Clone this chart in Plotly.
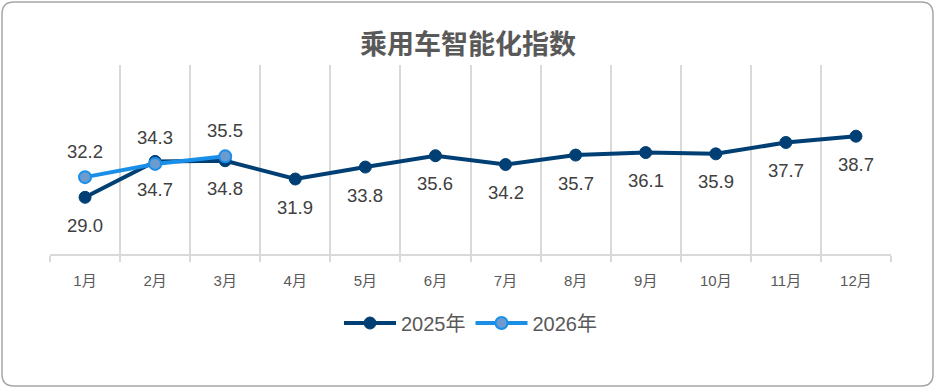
import plotly.graph_objects as go

months = ["1月", "2月", "3月", "4月", "5月", "6月", "7月", "8月", "9月", "10月", "11月", "12月"]
s2025 = [29.0, 34.7, 34.8, 31.9, 33.8, 35.6, 34.2, 35.7, 36.1, 35.9, 37.7, 38.7]
months_2026 = ["1月", "2月", "3月"]
s2026 = [32.2, 34.3, 35.5]

W, H = 936, 389
L, R, T, B = 50, 45, 65, 135
PW, PH = W - L - R, H - T - B

FONT = "Liberation Sans, Arial, Noto Sans CJK SC, sans-serif"

fig = go.Figure()
fig.add_trace(go.Scatter(
    x=months, y=s2025, name="2025年", mode="lines+markers",
    line=dict(color="#003f74", width=4),
    marker=dict(size=12, color="#003f74", line=dict(color="#003f74", width=1)),
))
fig.add_trace(go.Scatter(
    x=months_2026, y=s2026, name="2026年", mode="lines+markers",
    line=dict(color="#1a8fe8", width=4),
    marker=dict(size=12, color="#6c9bd0", line=dict(color="#1a8fe8", width=2)),
))

annots = []
for m, v in zip(months, s2025):
    annots.append(dict(x=m, y=v, xref="x", yref="y", text=f"{v:.1f}", showarrow=False,
                       yshift=-28, font=dict(size=18.5, color="#404040", family=FONT)))
for m, v in zip(months_2026, s2026):
    annots.append(dict(x=m, y=v, xref="x", yref="y", text=f"{v:.1f}", showarrow=False,
                       yshift=26, font=dict(size=18.5, color="#404040", family=FONT)))

def px2x(px):
    return (px - L) / PW

def py2y(py):
    return (H - B - py) / PH

x0, x1, y0, y1, r = 2, 933, 2, 386, 12
path = (f"M {px2x(x0 + r)} {py2y(y0)} L {px2x(x1 - r)} {py2y(y0)} "
        f"Q {px2x(x1)} {py2y(y0)} {px2x(x1)} {py2y(y0 + r)} "
        f"L {px2x(x1)} {py2y(y1 - r)} Q {px2x(x1)} {py2y(y1)} {px2x(x1 - r)} {py2y(y1)} "
        f"L {px2x(x0 + r)} {py2y(y1)} Q {px2x(x0)} {py2y(y1)} {px2x(x0)} {py2y(y1 - r)} "
        f"L {px2x(x0)} {py2y(y0 + r)} Q {px2x(x0)} {py2y(y0)} {px2x(x0 + r)} {py2y(y0)} Z")

fig.update_layout(
    width=W, height=H,
    margin=dict(l=L, r=R, t=T, b=B),
    paper_bgcolor="white", plot_bgcolor="white",
    title=dict(text="<b>乘用车智能化指数</b>", x=0.5, xanchor="center", y=1 - 45 / H, yanchor="middle",
               font=dict(size=27, color="#595959", family="Noto Sans CJK SC, sans-serif")),
    xaxis=dict(categoryorder="array", categoryarray=months, range=[-0.5, 11.5],
               tickson="boundaries", showgrid=True, gridcolor="#d9d9d9", gridwidth=1.5,
               showline=True, linecolor="#d9d9d9", linewidth=2,
               ticks="outside", ticklen=6, tickcolor="#d9d9d9", tickwidth=1.5,
               ticklabelstandoff=12,
               tickfont=dict(size=15, color="#595959", family=FONT), zeroline=False),
    yaxis=dict(range=[20, 50], showgrid=False, showticklabels=False, zeroline=False, showline=False),
    legend=dict(orientation="h", x=0.5, xanchor="center", y=py2y(323), yanchor="middle",
                font=dict(size=20, color="#595959", family=FONT), itemwidth=52),
    annotations=annots,
    shapes=[dict(type="path", path=path, xref="paper", yref="paper",
                 line=dict(color="#a6a6a6", width=1.5), layer="below")],
    showlegend=True,
)

fig.write_html("out.html", config={"displayModeBar": False},
               post_script="document.body.style.margin='0';document.body.style.overflow='hidden';")
